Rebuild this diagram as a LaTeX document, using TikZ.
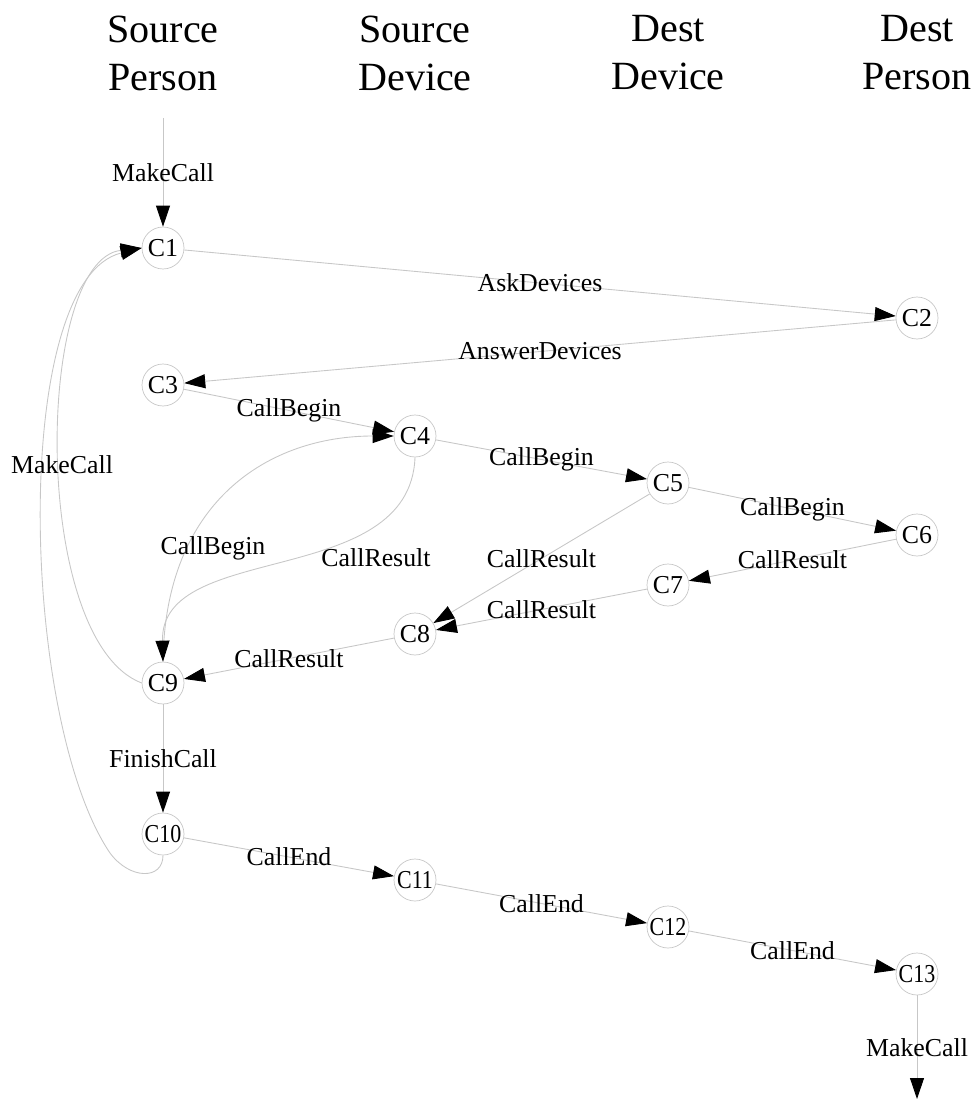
\documentclass[tikz,border=0pt]{standalone}
\usepackage{fontspec}
\setmainfont{Liberation Serif}
\usetikzlibrary{shapes,arrows.meta,calc}
\definecolor{edgegray}{gray}{0.78}
\tikzstyle{line} = [draw=edgegray, line width=0.5pt, -{Triangle[length=0.42cm, width=0.28cm, color=black]}]
\tikzstyle{state} = [draw=edgegray, circle, minimum size=0.84cm, inner sep=0pt, font=\fontsize{14.7}{17}\selectfont]
\tikzstyle{lbl} = [font=\fontsize{14.7}{17}\selectfont, inner sep=1pt]
\tikzstyle{role} = [align=center, font=\fontsize{22.8}{27.3}\selectfont]
\newcommand{\narrow}[1]{\scalebox{0.85}[1]{#1}}

\begin{document}
\begin{tikzpicture}[x=0.02cm, y=-0.02cm]
        \useasboundingbox (0,0) rectangle (977,1101);
        % the four parties
        \node[role] (srcperson) at (163,53) {Source\\Person};
        \node[role] (srcdevice) at (415,53) {Source\\Device};
        \node[role] (dstdevice) at (668,53) {Dest\\Device};
        \node[role] (dstperson) at (917,53) {Dest\\Person};
        % states
        \node[state] (C1) at (163,248) {C1};
        \node[state] (C2) at (917,318) {C2};
        \node[state] (C3) at (163,385) {C3};
        \node[state] (C4) at (415,436) {C4};
        \node[state] (C5) at (668,483) {C5};
        \node[state] (C6) at (917,535) {C6};
        \node[state] (C7) at (668,585) {C7};
        \node[state] (C8) at (415,634) {C8};
        \node[state] (C9) at (163,683) {C9};
        \node[state] (C10) at (163,834) {\narrow{C10}};
        \node[state] (C11) at (415,880) {\narrow{C11}};
        \node[state] (C12) at (668,927) {\narrow{C12}};
        \node[state] (C13) at (917,974) {\narrow{C13}};
        \coordinate (entry) at (163,118);
        \coordinate (exit) at (917,1099);
        % straight edges
        \path[line] (entry) -- node[lbl] (mc1) {MakeCall} (C1);
        \path[line] (C1) -- node[lbl] (ask) {AskDevices} (C2);
        \path[line] (C2) -- node[lbl] (answer) {AnswerDevices} (C3);
        \path[line] (C3) -- node[lbl] (cb1) {CallBegin} (C4);
        \path[line] (C4) -- node[lbl] (cb2) {CallBegin} (C5);
        \path[line] (C5) -- node[lbl] (cb3) {CallBegin} (C6);
        \path[line] (C6) -- node[lbl] (cr1) {CallResult} (C7);
        \path[line] (C5) -- node[lbl] (cr2) {CallResult} (C8);
        \path[line] (C7) -- node[lbl] (cr3) {CallResult} (C8);
        \path[line] (C8) -- node[lbl] (cr4) {CallResult} (C9);
        \path[line] (C9) -- node[lbl] (finish) {FinishCall} (C10);
        \path[line] (C10) -- node[lbl] (ce1) {CallEnd} (C11);
        \path[line] (C11) -- node[lbl] (ce2) {CallEnd} (C12);
        \path[line] (C12) -- node[lbl] (ce3) {CallEnd} (C13);
        \path[line] (C13) -- node[lbl] (mc3) {MakeCall} (exit);
        % curved edges
        \path[line] (C9.north) .. controls (165,500) and (270,436) .. (C4.west);
        \path[line] (C4.south) .. controls (410,590) and (160,540) .. (C9.north);
        \path[line] (C9.west) .. controls (30,640) and (35,260) .. (C1.west);
        \path[line] (C10.south) .. controls (163,880) and (130,880) .. (110,853)
                .. controls (20,720) and (10,280) .. (C1.west);
        \node[lbl] (cb4) at (213,548) {CallBegin};
        \node[lbl] (cr5) at (376,558) {CallResult};
        \node[lbl] (mc2) at (62,465) {MakeCall};
\end{tikzpicture}
\end{document}
